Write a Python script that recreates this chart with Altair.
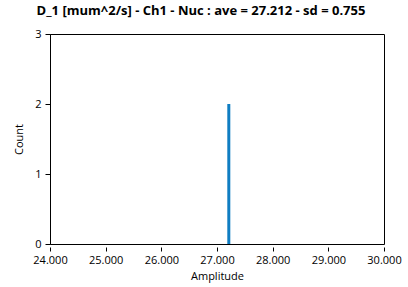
import altair as alt
import pandas as pd

bin_start = [27.185]
bin_end = [27.239]
counts = [2]

df = pd.DataFrame({"start": bin_start, "end": bin_end, "count": counts})

font = "Open Sans"
x_ticks = [24, 25, 26, 27, 28, 29, 30]

chart = alt.Chart(df).mark_bar(color="#0F7DC2").encode(
    x=alt.X("start:Q", scale=alt.Scale(domain=[24, 30], nice=False, zero=False),
            axis=alt.Axis(title="Amplitude", values=x_ticks, format=".3f", grid=False,
                          domain=False, offset=3,
                          tickSize=4, tickColor="black",
                          labelColor="black", titleColor="black", labelFont=font,
                          titleFont=font, labelFontSize=11, titleFontSize=11,
                          titleFontWeight="normal", labelPadding=3, titlePadding=5,
                          labelFlush=False, labelOverlap=False)),
    x2="end:Q",
    y=alt.Y("count:Q", scale=alt.Scale(domain=[0, 3], nice=False),
            axis=alt.Axis(title="Count", values=[0, 1, 2, 3], format="d", grid=False,
                          tickSize=5, domainColor="black", tickColor="black",
                          labelColor="black", titleColor="black", labelFont=font,
                          titleFont=font, labelFontSize=11, titleFontSize=11,
                          titleFontWeight="normal", labelPadding=4, titlePadding=10,
                          labelFlush=False)),
    y2=alt.Y2(datum=0),
).properties(
    width=334, height=210,
    background="white",
    title=alt.TitleParams("D_1 [mum^2/s] - Ch1 - Nuc : ave = 27.212 - sd = 0.755",
                          font=font, fontSize=13, fontWeight="bold", color="black",
                          anchor="middle", frame="group", dx=-16, offset=10),
    autosize=alt.AutoSizeParams(type="none"),
    padding={"left": 50, "top": 34, "right": 24, "bottom": 43},
).configure_view(stroke="black", strokeWidth=1)

chart.save("out.html", embed_options={"renderer": "svg", "actions": False})
